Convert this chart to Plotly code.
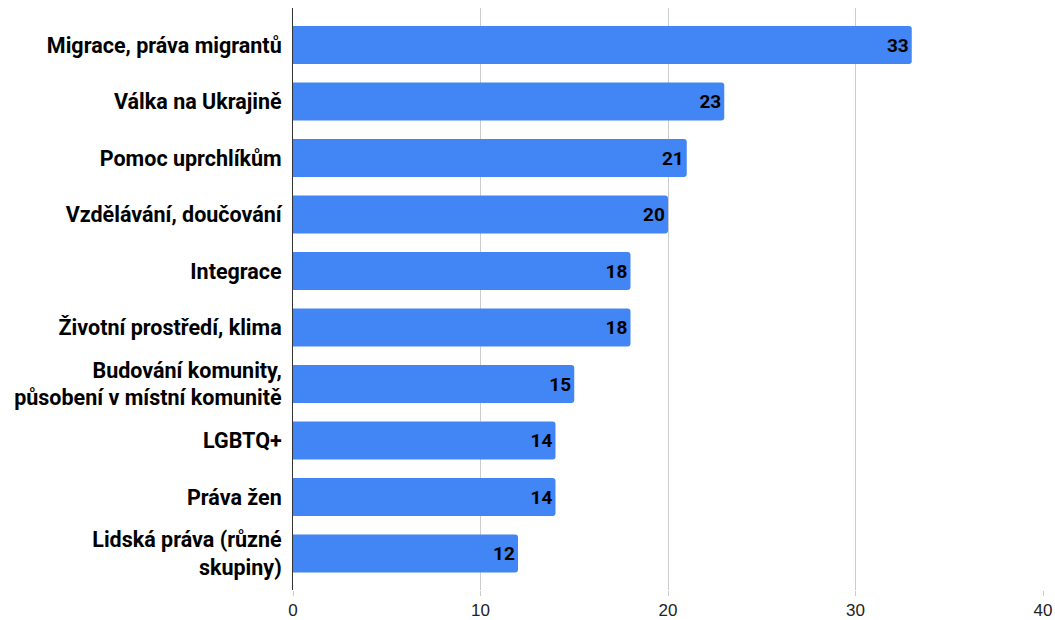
import plotly.graph_objects as go

categories = [
    "Migrace, práva migrantů",
    "Válka na Ukrajině",
    "Pomoc uprchlíkům",
    "Vzdělávání, doučování",
    "Integrace",
    "Životní prostředí, klima",
    "Budování komunity,<br>působení v místní komunitě",
    "LGBTQ+",
    "Práva žen",
    "Lidská práva (různé<br>skupiny)",
]
values = [33, 23, 21, 20, 18, 18, 15, 14, 14, 12]
x_ticks = [0, 10, 20, 30, 40]

fig = go.Figure()
fig.add_trace(
    go.Bar(
        x=values,
        y=categories,
        orientation="h",
        marker={"color": "#4285F4", "line": {"width": 0}, "cornerradius": 3},
        width=0.67,
        text=[str(v) for v in values],
        textposition="inside",
        insidetextanchor="end",
        textfont={"family": "Roboto", "size": 19, "color": "#000000", "weight": "bold"},
        cliponaxis=False,
    )
)
fig.update_layout(
    width=1055,
    height=620,
    margin={"l": 293, "r": 12, "t": 8, "b": 30, "autoexpand": False},
    plot_bgcolor="white",
    paper_bgcolor="white",
    showlegend=False,
    xaxis={
        "range": [0, 40],
        "tickvals": x_ticks,
        "showgrid": True,
        "gridcolor": "#cccccc",
        "gridwidth": 1,
        "zeroline": False,
        "ticks": "outside",
        "ticklen": 5,
        "tickcolor": "#cccccc",
        "tickfont": {"family": "Liberation Sans", "size": 17, "color": "#222222"},
        "showline": False,
        "automargin": False,
        "fixedrange": True,
    },
    yaxis={
        "type": "category",
        "range": [9.646, -0.655],
        "showgrid": False,
        "showline": True,
        "linecolor": "#333333",
        "linewidth": 1,
        "ticks": "",
        "ticklabelstandoff": 6,
        "automargin": False,
        "tickfont": {"family": "Roboto", "size": 21.5, "color": "#000000", "weight": "bold"},
    },
)
# drop the default body margin so the figure sits at the page origin
fig.write_html(
    "out.html",
    config={"displayModeBar": False},
    post_script="document.body.style.margin = '0';",
)
